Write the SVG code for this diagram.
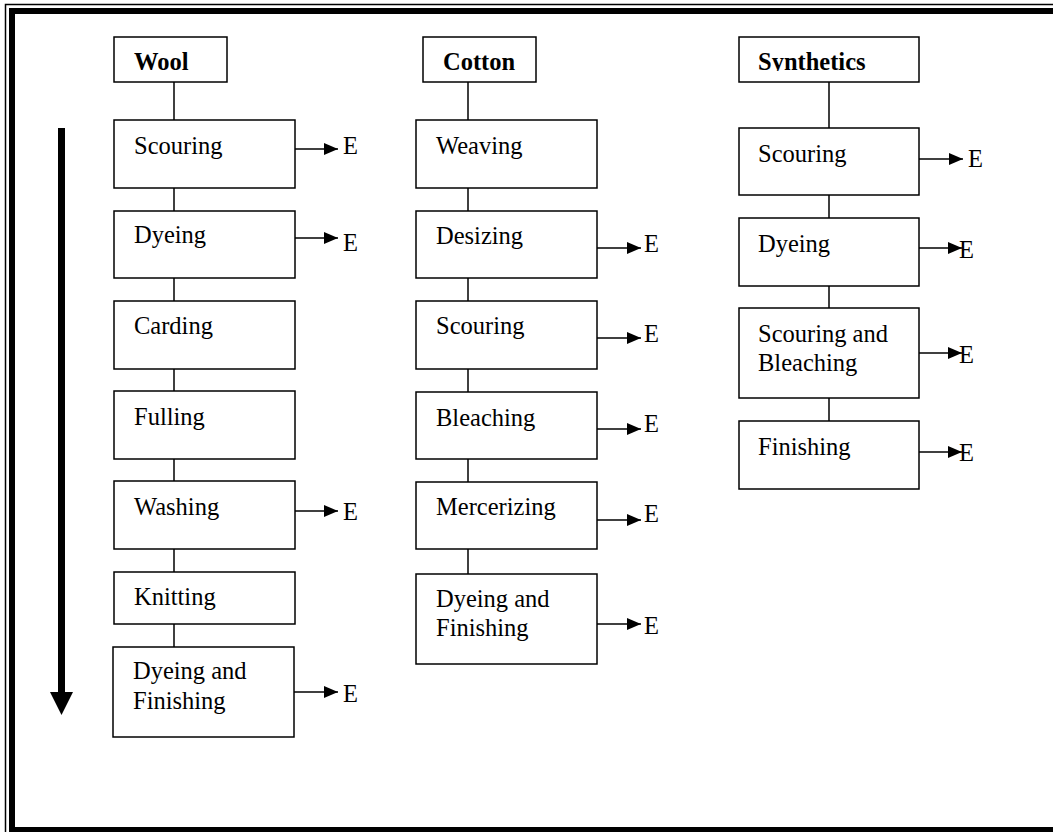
<svg xmlns="http://www.w3.org/2000/svg" width="1053" height="832" viewBox="0 0 1053 832">
<style>
.box{fill:#fff;stroke:#000;stroke-width:1.5}
.t{font-family:"Liberation Serif","Times New Roman",serif;font-size:24.5px;fill:#000}
.b{font-weight:bold}
.c{stroke:#000;stroke-width:1.5;fill:none}
.a{stroke:#000;stroke-width:1.5;fill:none;marker-end:url(#ah)}
</style>
<defs>
<marker id="ah" markerUnits="userSpaceOnUse" markerWidth="15" markerHeight="13" refX="14" refY="6" orient="auto">
<path d="M0,0 L14,6 L0,12 z" fill="#000"/>
</marker>
<clipPath id="synclip"><rect x="739" y="37" width="180" height="34"/></clipPath>
</defs>
<rect width="1053" height="832" fill="#fff"/>
<g id="frame">
<path d="M5.5,832 V4.5 H1053" fill="none" stroke="#000" stroke-width="1.5"/>
<path d="M12,832 V11 H1053" fill="none" stroke="#000" stroke-width="6"/>
<line x1="9" y1="829.5" x2="1053" y2="829.5" stroke="#000" stroke-width="5"/>
</g>
<g id="flow-arrow">
<rect x="58" y="128" width="7" height="565" fill="#000"/>
<path d="M50,692 L73,692 L61.5,715 z" fill="#000"/>
</g>
<g id="connectors">
<line class="c" x1="174" y1="82" x2="174" y2="120"/>
<line class="c" x1="174" y1="188" x2="174" y2="211"/>
<line class="c" x1="174" y1="278" x2="174" y2="301"/>
<line class="c" x1="174" y1="369" x2="174" y2="391"/>
<line class="c" x1="174" y1="459" x2="174" y2="481"/>
<line class="c" x1="174" y1="549" x2="174" y2="572"/>
<line class="c" x1="174" y1="624" x2="174" y2="647"/>
<line class="c" x1="468" y1="82" x2="468" y2="120"/>
<line class="c" x1="468" y1="188" x2="468" y2="211"/>
<line class="c" x1="468" y1="278" x2="468" y2="301"/>
<line class="c" x1="468" y1="369" x2="468" y2="392"/>
<line class="c" x1="468" y1="459" x2="468" y2="482"/>
<line class="c" x1="468" y1="549" x2="468" y2="574"/>
<line class="c" x1="829" y1="82" x2="829" y2="128"/>
<line class="c" x1="829" y1="195" x2="829" y2="218"/>
<line class="c" x1="829" y1="286" x2="829" y2="308"/>
<line class="c" x1="829" y1="398" x2="829" y2="421"/>
<line class="a" x1="295" y1="149" x2="338" y2="149"/>
<line class="a" x1="295" y1="238" x2="338" y2="238"/>
<line class="a" x1="295" y1="511" x2="338" y2="511"/>
<line class="a" x1="294" y1="692" x2="338" y2="692"/>
<line class="a" x1="597" y1="248" x2="641" y2="248"/>
<line class="a" x1="597" y1="338" x2="641" y2="338"/>
<line class="a" x1="597" y1="429" x2="641" y2="429"/>
<line class="a" x1="597" y1="520" x2="641" y2="520"/>
<line class="a" x1="597" y1="624" x2="641" y2="624"/>
<line class="a" x1="919" y1="159" x2="963" y2="159"/>
<line class="a" x1="919" y1="248" x2="962" y2="248"/>
<line class="a" x1="919" y1="353" x2="962" y2="353"/>
<line class="a" x1="919" y1="452" x2="962" y2="452"/>
</g>
<g id="e-labels">
<text class="t" x="343" y="154">E</text>
<text class="t" x="343" y="251">E</text>
<text class="t" x="343" y="520">E</text>
<text class="t" x="343" y="702">E</text>
<text class="t" x="644" y="252">E</text>
<text class="t" x="644" y="342">E</text>
<text class="t" x="644" y="432">E</text>
<text class="t" x="644" y="522">E</text>
<text class="t" x="644" y="634">E</text>
<text class="t" x="968" y="167">E</text>
<text class="t" x="959" y="258">E</text>
<text class="t" x="959" y="363">E</text>
<text class="t" x="959" y="461">E</text>
</g>
<g id="wool"><rect class="box" x="114" y="37" width="113" height="45"/><text class="t b" x="134" y="70">Wool</text></g>
<g id="wool-scouring"><rect class="box" x="114" y="120" width="181" height="68"/><text class="t" x="134" y="154">Scouring</text></g>
<g id="wool-dyeing"><rect class="box" x="114" y="211" width="181" height="67"/><text class="t" x="134" y="243">Dyeing</text></g>
<g id="wool-carding"><rect class="box" x="114" y="301" width="181" height="68"/><text class="t" x="134" y="334">Carding</text></g>
<g id="wool-fulling"><rect class="box" x="114" y="391" width="181" height="68"/><text class="t" x="134" y="425">Fulling</text></g>
<g id="wool-washing"><rect class="box" x="114" y="481" width="181" height="68"/><text class="t" x="134" y="515">Washing</text></g>
<g id="wool-knitting"><rect class="box" x="114" y="572" width="181" height="52"/><text class="t" x="134" y="605">Knitting</text></g>
<g id="wool-dyefin"><rect class="box" x="113" y="647" width="181" height="90"/><text class="t" x="133" y="679">Dyeing and</text><text class="t" x="133" y="709">Finishing</text></g>
<g id="cotton"><rect class="box" x="423" y="37" width="113" height="45"/><text class="t b" x="443" y="70">Cotton</text></g>
<g id="cotton-weaving"><rect class="box" x="416" y="120" width="181" height="68"/><text class="t" x="436" y="154">Weaving</text></g>
<g id="cotton-desizing"><rect class="box" x="416" y="211" width="181" height="67"/><text class="t" x="436" y="244">Desizing</text></g>
<g id="cotton-scouring"><rect class="box" x="416" y="301" width="181" height="68"/><text class="t" x="436" y="334">Scouring</text></g>
<g id="cotton-bleaching"><rect class="box" x="416" y="392" width="181" height="67"/><text class="t" x="436" y="426">Bleaching</text></g>
<g id="cotton-mercerizing"><rect class="box" x="416" y="482" width="181" height="67"/><text class="t" x="436" y="515">Mercerizing</text></g>
<g id="cotton-dyefin"><rect class="box" x="416" y="574" width="181" height="90"/><text class="t" x="436" y="607">Dyeing and</text><text class="t" x="436" y="636">Finishing</text></g>
<g id="synthetics"><rect class="box" x="739" y="37" width="180" height="45"/><text class="t b" x="758" y="70" clip-path="url(#synclip)">Synthetics</text></g>
<g id="syn-scouring"><rect class="box" x="739" y="128" width="180" height="67"/><text class="t" x="758" y="162">Scouring</text></g>
<g id="syn-dyeing"><rect class="box" x="739" y="218" width="180" height="68"/><text class="t" x="758" y="252">Dyeing</text></g>
<g id="syn-scourbleach"><rect class="box" x="739" y="308" width="180" height="90"/><text class="t" x="758" y="342">Scouring and</text><text class="t" x="758" y="371">Bleaching</text></g>
<g id="syn-finishing"><rect class="box" x="739" y="421" width="180" height="68"/><text class="t" x="758" y="455">Finishing</text></g>
</svg>
